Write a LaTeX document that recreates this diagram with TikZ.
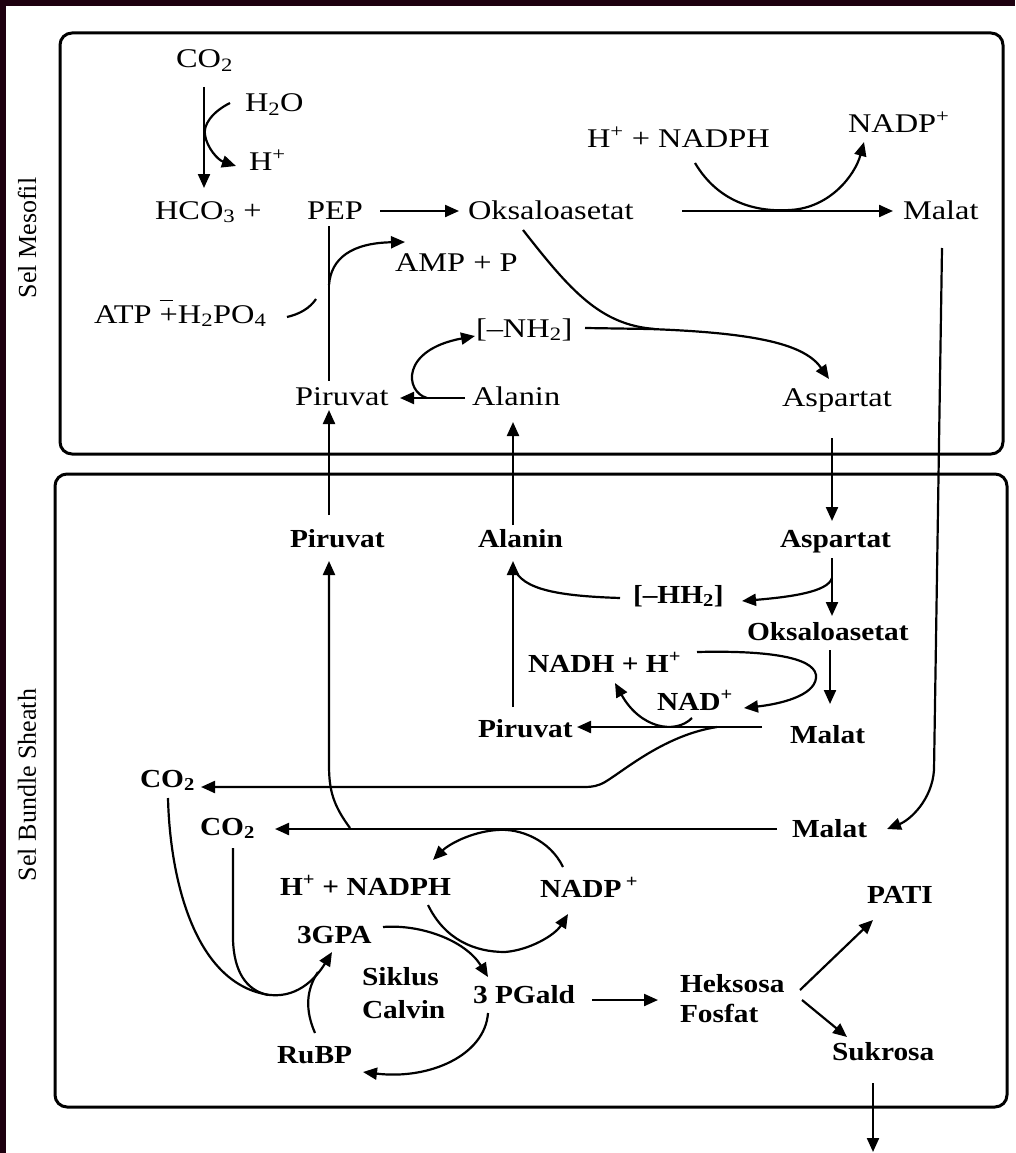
\documentclass[tikz,border=0pt]{standalone}
\usepackage{fontspec}
\setmainfont{Liberation Serif}
\newfontfamily\upf{Liberation Serif}[FakeStretch=1.2]
\newfontfamily\lof{Liberation Serif}[FakeStretch=1.13]
\usetikzlibrary{arrows.meta}
\definecolor{darkframe}{RGB}{30,0,15}
\tikzset{
  up/.style={font=\upf\fontsize{27}{30}\selectfont, inner sep=0pt, outer sep=0pt, text height=18pt, text depth=0pt, anchor=base west},
  lo/.style={font=\lof\bfseries\fontsize{26}{29}\selectfont, inner sep=0pt, outer sep=0pt, text height=17pt, text depth=0pt, anchor=base west},
  side/.style={font=\fontsize{26}{29}\selectfont, rotate=90, inner sep=0pt},
  arr/.style={line width=2.2pt, -{Triangle[length=14pt,width=12pt]}},
  ln/.style={line width=2.2pt},
  cellbox/.style={line width=3pt, rounded corners=12pt}
}
\begin{document}
\begin{tikzpicture}[x=1pt,y=-1pt]
\useasboundingbox (0,0) rectangle (1015,1153);
\fill[white] (0,0) rectangle (1015,1153);
\fill[darkframe] (0,0) rectangle (1015,6);
\fill[darkframe] (0,0) rectangle (6,1153);
% cell boxes
\draw[cellbox] (60,33) rectangle (1003,454);
\draw[cellbox] (55,474) rectangle (1007,1107);
\node[side] (lmes) at (27,238) {Sel Mesofil};
\node[side] (lbun) at (27,785) {Sel Bundle Sheath};
% ---- mesophyll ----
\node[up] (co2a) at (176,68) {CO\textsubscript{2}};
\node[up] (h2o) at (245,112) {H\textsubscript{2}O};
\node[up] (hpa) at (249,170) {H\textsuperscript{+}};
\node[up] (hco3) at (155,219) {HCO\textsubscript{3} +};
\node[up] (pep) at (307,219) {PEP};
\node[up] (oks1) at (468,219) {Oksaloasetat};
\node[up] (mal1) at (903,219) {Malat};
\node[up] (hnadph1) at (587,147) {H\textsuperscript{+} + NADPH};
\node[up] (nadp1) at (848,132) {NADP\textsuperscript{+}};
\node[up] (amp) at (395,271) {AMP + P};
\node[up] (atp) at (94,323) {ATP \rlap{\rule[0.8em]{0.5em}{1.3pt}}+H\textsubscript{2}PO\textsubscript{4}};
\node[up] (nh2) at (476,337) {[–NH\textsubscript{2}]};
\node[up] (pir1) at (295,405) {Piruvat};
\node[up] (ala1) at (472,405) {Alanin};
\node[up] (asp1) at (782,406) {Aspartat};
% ---- bundle sheath ----
\node[lo] (pir2) at (290,547) {Piruvat};
\node[lo] (ala2) at (478,547) {Alanin};
\node[lo] (asp2) at (780,547) {Aspartat};
\node[lo] (hh2) at (633,603) {[–HH\textsubscript{2}]};
\node[lo] (oks2) at (747,640) {Oksaloasetat};
\node[lo] (nadh) at (528,672) {NADH + H\textsuperscript{+}};
\node[lo] (nad) at (657,710) {NAD\textsuperscript{+}};
\node[lo] (pir3) at (478,737) {Piruvat};
\node[lo] (mal2) at (790,743) {Malat};
\node[lo] (co2b) at (140,787) {CO\textsubscript{2}};
\node[lo] (co2c) at (200,835) {CO\textsubscript{2}};
\node[lo] (mal3) at (792,837) {Malat};
\node[lo] (hnadph2) at (280,895) {H\textsuperscript{+} + NADPH};
\node[lo] (nadp2) at (540,897) {NADP\,\textsuperscript{+}};
\node[lo] (gpa) at (297,943) {3GPA};
\node[lo] (sik) at (362,985) {Siklus};
\node[lo] (cal) at (362,1018) {Calvin};
\node[lo] (pgald) at (473,1003) {3 PGald};
\node[lo] (hek) at (680,992) {Heksosa};
\node[lo] (fos) at (680,1022) {Fosfat};
\node[lo] (pati) at (867,903) {PATI};
\node[lo] (rubp) at (277,1063) {RuBP};
\node[lo] (suk) at (832,1060) {Sukrosa};
% ---- connectors, mesophyll ----
\draw[arr] (204,87) -- (204,188);
\draw[arr] (230,103) .. controls (212,112) and (203,125) .. (205,135) .. controls (207,148) and (218,160) .. (236,166);
\draw[arr] (380,211) -- (459,211);
\draw[ln] (329,226) -- (329,381);
\draw[arr] (329,285) .. controls (331,258) and (352,243) .. (405,242);
\draw[ln] (287,317) .. controls (300,314) and (310,308) .. (316,299);
\draw[arr] (465,398) -- (400,398);
\draw[arr] (427,398) .. controls (405,392) and (400,350) .. (475,336);
\draw[arr] (585,328) -- (650,329) .. controls (760,333) and (805,345) .. (829,379);
\draw[ln] (523,230) .. controls (570,290) and (600,325) .. (655,329);
\draw[arr] (695,163) .. controls (720,205) and (760,212) .. (790,210) .. controls (830,208) and (855,175) .. (864,142);
\draw[arr] (682,211) -- (893,211);
\draw[arr] (942,248) -- (934,770) .. controls (932,800) and (910,820) .. (887,829);
\draw[arr] (832,438) -- (832,521);
\draw[arr] (513,525) -- (513,422);
\draw[arr] (329,515) -- (329,410);
% ---- connectors, bundle sheath ----
\draw[arr] (350,828) .. controls (333,805) and (329,790) .. (329,765) -- (329,561);
\draw[arr] (832,558) -- (832,616);
\draw[arr] (832,578) .. controls (828,592) and (790,597) .. (742,601);
\draw[ln] (620,598) .. controls (560,596) and (522,590) .. (514,568);
\draw[arr] (513,707) -- (513,561);
\draw[arr] (830,650) -- (830,704);
\draw[arr] (697,652) .. controls (780,650) and (818,660) .. (816,678) .. controls (814,696) and (780,704) .. (744,708);
\draw[arr] (762,727) -- (577,727);
\draw[arr] (692,718) .. controls (675,735) and (640,728) .. (615,683);
\draw[arr] (717,727) .. controls (665,735) and (625,770) .. (605,782) .. controls (598,786) and (592,787) .. (585,787) -- (201,787);
\draw[arr] (777,829) -- (275,829);
\draw[arr] (168,798) .. controls (170,880) and (195,985) .. (270,995) .. controls (300,998) and (318,975) .. (332,952);
\draw[ln] (233,848) -- (233,940) .. controls (234,970) and (245,990) .. (268,995);
\draw[arr] (563,867) .. controls (550,840) and (520,828) .. (497,830) .. controls (470,832) and (448,845) .. (433,860);
\draw[arr] (383,927) .. controls (420,924) and (465,940) .. (488,977);
\draw[arr] (428,905) .. controls (445,940) and (475,952) .. (505,952) .. controls (530,950) and (555,935) .. (568,914);
\draw[arr] (592,1000) -- (658,1000);
\draw[ln] (315,1033) .. controls (305,1010) and (306,990) .. (318,972);
\draw[arr] (488,1013) .. controls (485,1055) and (430,1080) .. (363,1072);
\draw[arr] (800,990) -- (873,920);
\draw[arr] (802,1000) -- (847,1037);
\draw[arr] (873,1083) -- (873,1152);
\end{tikzpicture}
\end{document}
